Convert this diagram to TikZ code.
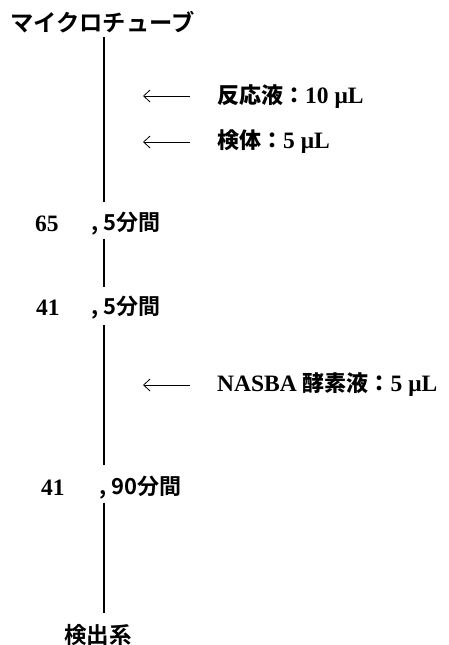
\documentclass[tikz,border=0pt]{standalone}
\usepackage{fontspec}
\setmainfont{Liberation Serif}
\newfontfamily\jp{Noto Sans CJK JP Bold}
\usetikzlibrary{arrows.meta}
\tikzset{
  lab/.style={inner sep=0pt, anchor=west, font=\fontsize{23.5}{25}\selectfont\bfseries},
  jlab/.style={inner sep=0pt, anchor=west, font=\fontsize{22}{24}\selectfont\jp},
  jt/.style={inner sep=0pt, anchor=center, font=\fontsize{23.3}{25}\selectfont\jp},
  flow/.style={line width=1.3pt},
  addarrow/.style={line width=0.7pt, -{Straight Barb[length=6.5pt,width=12pt,line width=0.8pt]}}
}
\newcommand{\jpin}[1]{{\fontsize{22}{24}\selectfont\jp #1}}
\begin{document}
\begin{tikzpicture}[x=1pt,y=-1pt]
\useasboundingbox (0,0) rectangle (448,645);
% titles
\node[jt] (title) at (102.5,22) {マイクロチューブ};
\node[jt, font=\fontsize{22.5}{24}\selectfont\jp] (det) at (98,635) {検出系};
% added reagents
\node[lab] (r1) at (217,97) {\jpin{反応液：}10 μL};
\node[lab] (r2) at (217,142) {\jpin{検体：}5 μL};
\node[lab] (r3) at (217,385) {NASBA \jpin{酵素液：}5 μL};
% steps
\node[lab] (t1) at (35,224) {65};
\node[jlab] (s1) at (91,224) {, 5分間};
\node[lab] (t2) at (36,308) {41};
\node[jlab] (s2) at (91,308) {, 5分間};
\node[lab] (t3) at (41,488) {41};
\node[jlab] (s3) at (99,488) {, 90分間};
% vertical line pieces
\coordinate (a0) at (104,37);
\coordinate (a1) at (104,202);
\coordinate (b0) at (104,239);
\coordinate (b1) at (104,287);
\coordinate (c0) at (104,325);
\coordinate (c1) at (104,465);
\coordinate (d0) at (104,503);
\coordinate (d1) at (104,613);
\draw[flow] (a0) -- (a1);
\draw[flow] (b0) -- (b1);
\draw[flow] (c0) -- (c1);
\draw[flow] (d0) -- (d1);
% arrows
\coordinate (e1) at (190,96);
\coordinate (f1) at (143,96);
\coordinate (e2) at (190,142);
\coordinate (f2) at (143,142);
\coordinate (e3) at (190,385);
\coordinate (f3) at (143,385);
\draw[addarrow] (e1) -- (f1);
\draw[addarrow] (e2) -- (f2);
\draw[addarrow] (e3) -- (f3);
\end{tikzpicture}
\end{document}
